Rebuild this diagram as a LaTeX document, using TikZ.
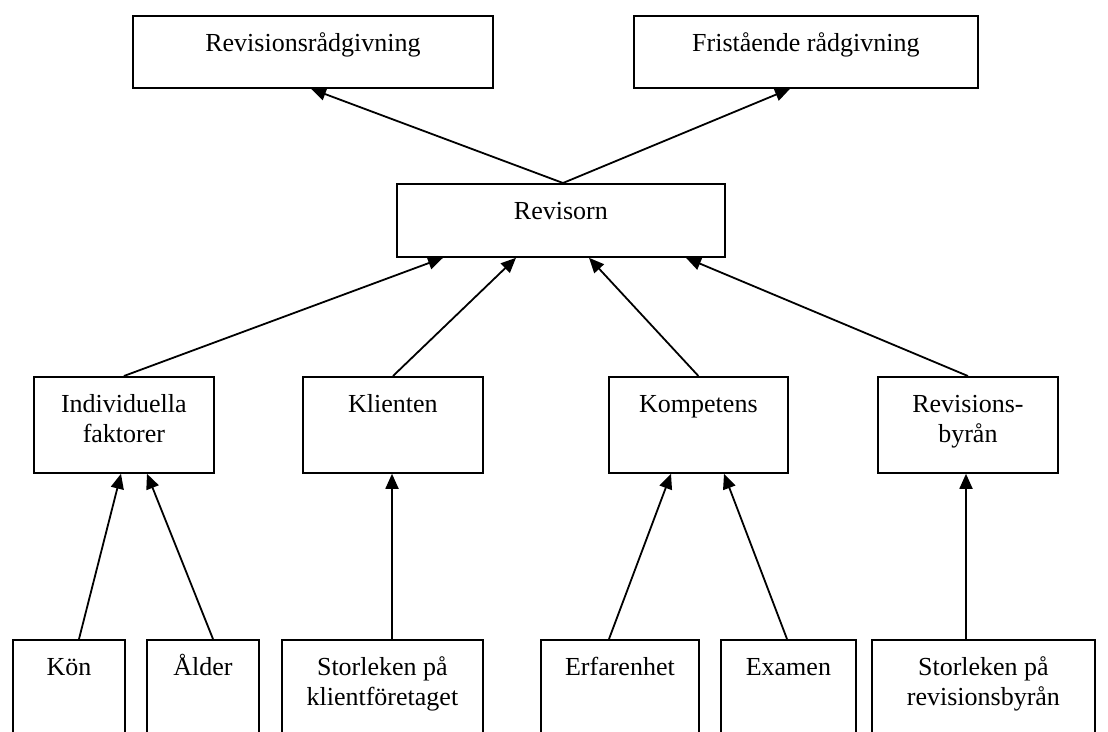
\documentclass[tikz,border=0pt]{standalone}
\usepackage{fontspec}
\setmainfont{Liberation Serif}
\usetikzlibrary{arrows.meta}
\newcommand{\boxtext}[3]{\parbox[t][#2][t]{#1}{\centering\rule{0pt}{36pt}#3}}
\begin{document}
\begin{tikzpicture}[x=1pt,y=-1pt,
	box/.style={draw,line width=1.8pt,anchor=north west,inner sep=0pt,font=\fontsize{26}{30}\selectfont},
	arr/.style={line width=1.8pt,-{Triangle[length=15pt,width=13pt]}}]
	\useasboundingbox (0,0) rectangle (1108,731);
	\node[box] (rr) at (132,15) {\boxtext{360pt}{72pt}{Revisionsrådgivning}};
	\node[box] (fr) at (633,15) {\boxtext{344pt}{72pt}{Fristående rådgivning}};
	\node[box] (rev) at (396,183) {\boxtext{328pt}{73pt}{Revisorn}};
	\node[box] (ind) at (33,376) {\boxtext{180pt}{96pt}{Individuella\\faktorer}};
	\node[box] (kli) at (302,376) {\boxtext{180pt}{96pt}{Klienten}};
	\node[box] (komp) at (608,376) {\boxtext{179pt}{96pt}{Kompetens}};
	\node[box] (byr) at (877,376) {\boxtext{180pt}{96pt}{Revisions-\\byrån}};
	\node[box] (kon) at (12,639) {\boxtext{112pt}{130pt}{Kön}};
	\node[box] (alder) at (146,639) {\boxtext{112pt}{130pt}{Ålder}};
	\node[box] (skl) at (281,639) {\boxtext{201pt}{130pt}{Storleken på\\klientföretaget}};
	\node[box] (erf) at (540,639) {\boxtext{158pt}{130pt}{Erfarenhet}};
	\node[box] (exa) at (720,639) {\boxtext{135pt}{130pt}{Examen}};
	\node[box] (srb) at (871,639) {\boxtext{223pt}{130pt}{Storleken på\\revisionsbyrån}};
	\draw[arr] ([xshift=167pt]rev.north west) -- ([xshift=179pt]rr.south west);
	\draw[arr] ([xshift=167pt]rev.north west) -- ([xshift=157pt]fr.south west);
	\draw[arr] (ind.north) -- ([xshift=47pt]rev.south west);
	\draw[arr] ([xshift=91pt]kli.north west) -- ([xshift=120pt]rev.south west);
	\draw[arr] (komp.north) -- ([xshift=193pt]rev.south west);
	\draw[arr] (byr.north) -- ([xshift=290pt]rev.south west);
	\draw[arr] ([xshift=67pt]kon.north west) -- ([xshift=88pt]ind.south west);
	\draw[arr] ([xshift=67pt]alder.north west) -- ([xshift=114pt]ind.south west);
	\draw[arr] ([xshift=111pt]skl.north west) -- ([xshift=90pt]kli.south west);
	\draw[arr] ([xshift=69pt]erf.north west) -- ([xshift=63pt]komp.south west);
	\draw[arr] ([xshift=67pt]exa.north west) -- ([xshift=116pt]komp.south west);
	\draw[arr] ([xshift=95pt]srb.north west) -- ([xshift=89pt]byr.south west);
\end{tikzpicture}
\end{document}
